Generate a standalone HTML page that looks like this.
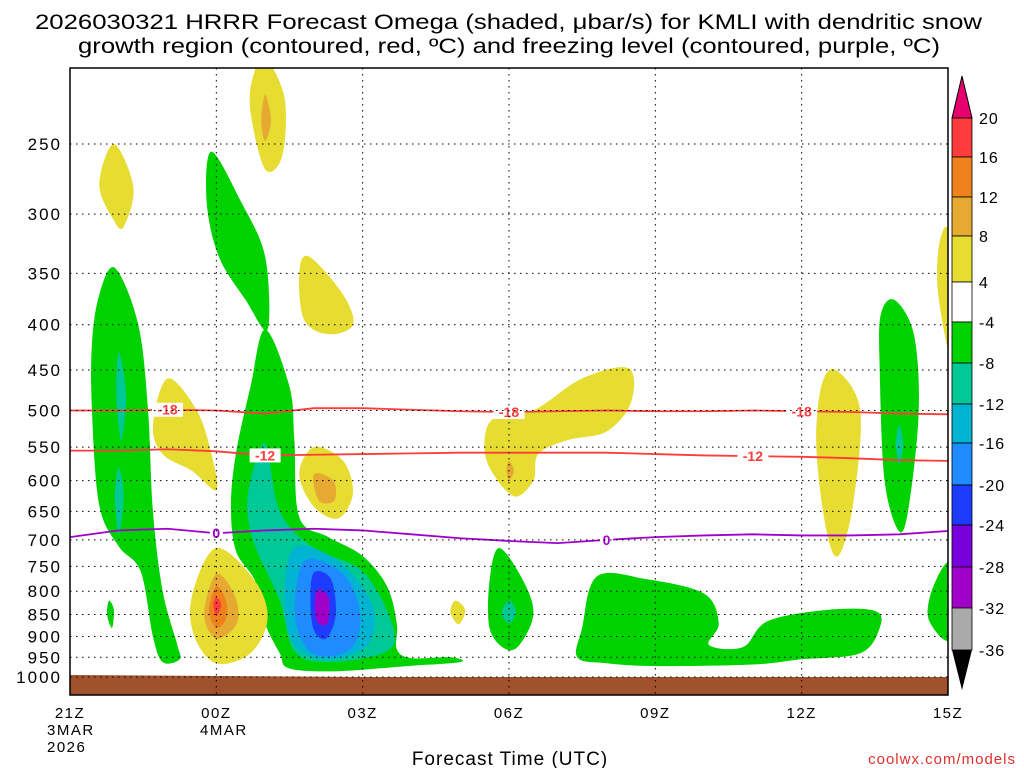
<!DOCTYPE html>
<html><head><meta charset="utf-8"><style>
body{margin:0;background:#fff;}
svg{display:block;font-family:"Liberation Sans","DejaVu Sans",sans-serif;}
</style></head><body>
<svg id="c" width="1024" height="768" viewBox="0 0 1024 768" xmlns="http://www.w3.org/2000/svg">
<text x="35" y="29" font-size="21" textLength="947" lengthAdjust="spacingAndGlyphs">2026030321 HRRR Forecast Omega (shaded, μbar/s) for KMLI with dendritic snow</text>
<text x="78" y="53" font-size="21" textLength="862" lengthAdjust="spacingAndGlyphs">growth region (contoured, red, ºC) and freezing level (contoured, purple, ºC)</text>
<g id="plot"></g>
<text x="510" y="765" font-size="19" text-anchor="middle" letter-spacing="1">Forecast Time (UTC)</text>
<text x="1016" y="764" font-size="15" fill="#e03030" text-anchor="end" letter-spacing="1">coolwx.com/models</text>
</svg>
<script>
const NS="http://www.w3.org/2000/svg";
const pTicks=[250,300,350,400,450,500,550,600,650,700,750,800,850,900,950,1000];
const xTickHours=[0,3,6,9,12,15,18];
const xTickLabels=["21Z","00Z","03Z","06Z","09Z","12Z","15Z"];
const cbLevels=[20,16,12,8,4,-4,-8,-12,-16,-20,-24,-28,-32,-36];
const cbColors=["#ff3c3c","#f0821e","#e6aa32","#e6dc32","#ffffff","#00d200","#00c896","#00b4d2","#1e8cff","#1e3cff","#7800dc","#a000c8","#aaaaaa"];
const lineHours=[0,1,2,3,4,5,6,7,8,9,10,11,12,13,14,15,16,17,18];
const minus18=[500,500,499,500,504,497,497,499,501,502,501,500,501,501,500,501,502,504,505];
const minus12=[555,555,553,556,562,561,560,559,558,558,558,558,560,562,563,564,566,569,570];
const zeroLine=[695,683,680,688,683,680,683,690,697,702,706,700,695,692,690,692,692,690,684];
const blobs=[
 ["#e6dc32",[[0.9,250],[1.3,280],[1.1,310],[0.9,305],[0.6,278]]],
 ["#e6dc32",[[4.0,200],[4.4,222],[4.35,258],[4.0,267],[3.7,230],[3.75,210]]],
 ["#e6aa32",[[4.0,220],[4.12,235],[4.0,248],[3.92,235]]],
 ["#e6dc32",[[4.9,335],[5.6,370],[5.8,400],[5.3,410],[4.8,395],[4.7,350]]],
 ["#00d200",[[2.9,255],[3.5,290],[4.0,335],[4.05,405],[3.6,375],[3.05,335],[2.8,290]]],
 ["#00d200",[[0.92,345],[1.4,400],[1.6,500],[1.7,650],[1.9,800],[2.2,920],[2.25,955],[1.9,962],[1.7,900],[1.45,760],[1.0,712],[0.6,640],[0.45,500],[0.45,420],[0.6,370]]],
 ["#00c896",[[1.0,430],[1.15,480],[1.05,540],[0.95,480]]],
 ["#00c896",[[1.0,580],[1.1,625],[1.0,690],[0.92,625]]],
 ["#00d200",[[0.8,820],[0.9,840],[0.86,880],[0.76,850]]],
 ["#e6dc32",[[2.0,460],[2.6,500],[2.9,560],[3.0,615],[2.5,585],[1.9,560],[1.7,520]]],
 ["#00d200",[[4.0,405],[4.5,470],[4.6,540],[4.7,660],[5.3,695],[6.0,730],[6.5,790],[6.7,870],[6.7,930],[7.0,952],[7.8,950],[8.0,962],[6.9,972],[5.5,985],[4.5,978],[4.3,940],[4.0,870],[3.8,780],[3.4,720],[3.3,640],[3.4,560],[3.7,470]]],
 ["#00c896",[[4.0,545],[4.3,650],[5.0,715],[6.0,760],[6.6,870],[6.5,935],[5.3,962],[4.6,935],[4.3,820],[3.75,700],[3.65,620]]],
 ["#00b4d2",[[4.6,715],[5.5,740],[6.2,830],[6.1,920],[5.3,955],[4.6,920],[4.4,820]]],
 ["#1e8cff",[[4.8,740],[5.6,765],[5.95,850],[5.75,930],[5.0,942],[4.62,860]]],
 ["#1e3cff",[[5.0,762],[5.35,775],[5.45,850],[5.25,905],[5.0,885],[4.93,820]]],
 ["#a000c8",[[5.05,800],[5.3,812],[5.28,870],[5.05,862]]],
 ["#e6dc32",[[5.0,550],[5.6,570],[5.8,620],[5.5,662],[5.0,642],[4.7,590]]],
 ["#e6aa32",[[5.0,590],[5.4,600],[5.42,632],[5.1,632]]],
 ["#e6dc32",[[3.0,715],[3.8,780],[4.05,860],[3.7,940],[3.0,965],[2.55,900],[2.5,810]]],
 ["#e6aa32",[[3.0,765],[3.38,810],[3.42,870],[3.0,905],[2.75,850]]],
 ["#f0821e",[[3.0,790],[3.2,820],[3.2,860],[3.0,880],[2.85,840]]],
 ["#ff3c3c",[[3.0,812],[3.1,830],[3.0,852],[2.94,830]]],
 ["#e6dc32",[[7.9,820],[8.1,840],[7.97,872],[7.8,845]]],
 ["#e6dc32",[[8.7,510],[9.5,500],[10.5,460],[11.45,448],[11.5,490],[11.0,528],[10.2,540],[9.6,560],[9.5,600],[9.1,625],[8.6,580],[8.5,540]]],
 ["#e6aa32",[[9.0,570],[9.1,585],[9.0,600],[8.95,585]]],
 ["#00d200",[[8.8,715],[9.3,780],[9.5,850],[9.2,922],[8.9,928],[8.6,880],[8.6,780]]],
 ["#00c896",[[9.0,820],[9.15,845],[9.0,870],[8.85,845]]],
 ["#00d200",[[10.8,770],[11.8,775],[13.0,805],[13.3,870],[13.1,920],[13.8,925],[14.3,865],[15.5,840],[16.5,842],[16.6,880],[16.2,940],[15,955],[14,968],[12,972],[11,965],[10.4,950],[10.5,880]]],
 ["#e6dc32",[[15.7,450],[16.2,500],[16.05,640],[15.75,730],[15.5,680],[15.3,550],[15.4,470]]],
 ["#00d200",[[16.9,375],[17.3,410],[17.4,500],[17.2,640],[17.0,685],[16.7,600],[16.6,450],[16.62,390]]],
 ["#00c896",[[17.0,520],[17.08,545],[17.0,575],[16.93,545]]],
 ["#00d200",[[18.05,745],[18.05,905],[17.6,860],[17.7,790]]],
 ["#e6dc32",[[17.95,310],[18.05,330],[18.05,430],[17.8,370],[17.8,330]]]
];
const X0=70,X1=948,Y0=68,Y1=695;
const xs=h=>X0+h*(X1-X0)/18;
const ys=p=>144+(Math.log(p)-Math.log(250))/Math.log(4)*533;
const plot=document.getElementById('plot');
function mk(t,a,par){const e=document.createElementNS(NS,t);for(const k in a)e.setAttribute(k,a[k]);(par||plot).appendChild(e);return e;}
function closed(pts){const n=pts.length;let d=`M${pts[0][0]},${pts[0][1]}`;for(let i=0;i<n;i++){const p0=pts[(i-1+n)%n],p1=pts[i],p2=pts[(i+1)%n],p3=pts[(i+2)%n];d+=`C${p1[0]+(p2[0]-p0[0])/6},${p1[1]+(p2[1]-p0[1])/6} ${p2[0]-(p3[0]-p1[0])/6},${p2[1]-(p3[1]-p1[1])/6} ${p2[0]},${p2[1]}`;}return d+"Z";}
const cp=mk('clipPath',{id:'clip'});mk('rect',{x:X0,y:Y0,width:X1-X0,height:Y1-Y0},cp);
const g=mk('g',{'clip-path':'url(#clip)'});
blobs.forEach((b,i)=>{const e=mk('path',{d:closed(b[1].map(q=>[xs(q[0]),ys(q[1])])),fill:b[0]},g);

});
const gr=mk('path',{d:`M${X0},${ys(1000)-2}L${xs(6)},${ys(1000)}L${X1},${ys(1000)}L${X1},${Y1}L${X0},${Y1}Z`,fill:'#a0522d'},g);


pTicks.forEach(p=>{const y=ys(p);
const l=mk('line',{x1:X0,x2:X1,y1:y,y2:y,stroke:'#000','stroke-dasharray':'1.5,4.5','stroke-width':1});


const t=mk('text',{x:62,y:y+6,'font-size':17,'text-anchor':'end','letter-spacing':2});t.textContent=p;

});
xTickHours.forEach((h,i)=>{const x=xs(h);
const l=mk('line',{x1:x,x2:x,y1:Y0,y2:Y1,stroke:'#000','stroke-dasharray':'1.5,4.5'});


const t=mk('text',{x:x,y:718,'font-size':15,'text-anchor':'middle','letter-spacing':1.5});t.textContent=xTickLabels[i];

});
[["3MAR",47,735],["2026",47,752],["4MAR",200,735]].forEach(a=>{const t=mk('text',{x:a[1],y:a[2],'font-size':15,'letter-spacing':1.5});t.textContent=a[0];

});
function line(vals,color,name,labs,lbl){const d=vals.map((p,i)=>(i?'L':'M')+xs(lineHours[i])+','+ys(p)).join('');
const e=mk('path',{d:d,fill:'none',stroke:color,'stroke-width':1.8},g);


labs.forEach(h=>{const i=Math.round(h);const y=ys(vals[i]);
const w=lbl.length*9+4;
mk('rect',{x:xs(h)-w/2,y:y-7,width:w,height:14,fill:'#fff'},g);
const t=mk('text',{x:xs(h),y:y+5,'font-size':14,'font-weight':'bold',fill:color,'text-anchor':'middle'},g);t.textContent=lbl;

});}
line(minus18,'#ff3c3c','contour-minus18',[2,9,15],'-18');
line(minus12,'#ff3c3c','contour-minus12',[4,14],'-12');
line(zeroLine,'#a000c8','freezing-level',[3,11],'0');
mk('rect',{x:X0,y:Y0,width:X1-X0,height:Y1-Y0,fill:'none',stroke:'#000','stroke-width':1.5});
const cbY=[118,157,197,236,282,322,363,404,443,485,525,567,608,650];
const cx=952,cw=20;
mk('path',{d:`M${cx},${cbY[0]}L${cx+cw/2},76L${cx+cw},${cbY[0]}Z`,fill:'#e6006e',stroke:'#000'});
for(let i=0;i<cbColors.length;i++){const r=mk('rect',{x:cx,y:cbY[i],width:cw,height:cbY[i+1]-cbY[i],fill:cbColors[i],stroke:'#000','stroke-width':0.8});

}
mk('path',{d:`M${cx},${cbY[13]}L${cx+cw/2},690L${cx+cw},${cbY[13]}Z`,fill:'#000'});
cbLevels.forEach((l,i)=>{const t=mk('text',{x:979,y:cbY[i]+6,'font-size':16,'letter-spacing':1});t.textContent=l;

});
</script>
</body></html>
